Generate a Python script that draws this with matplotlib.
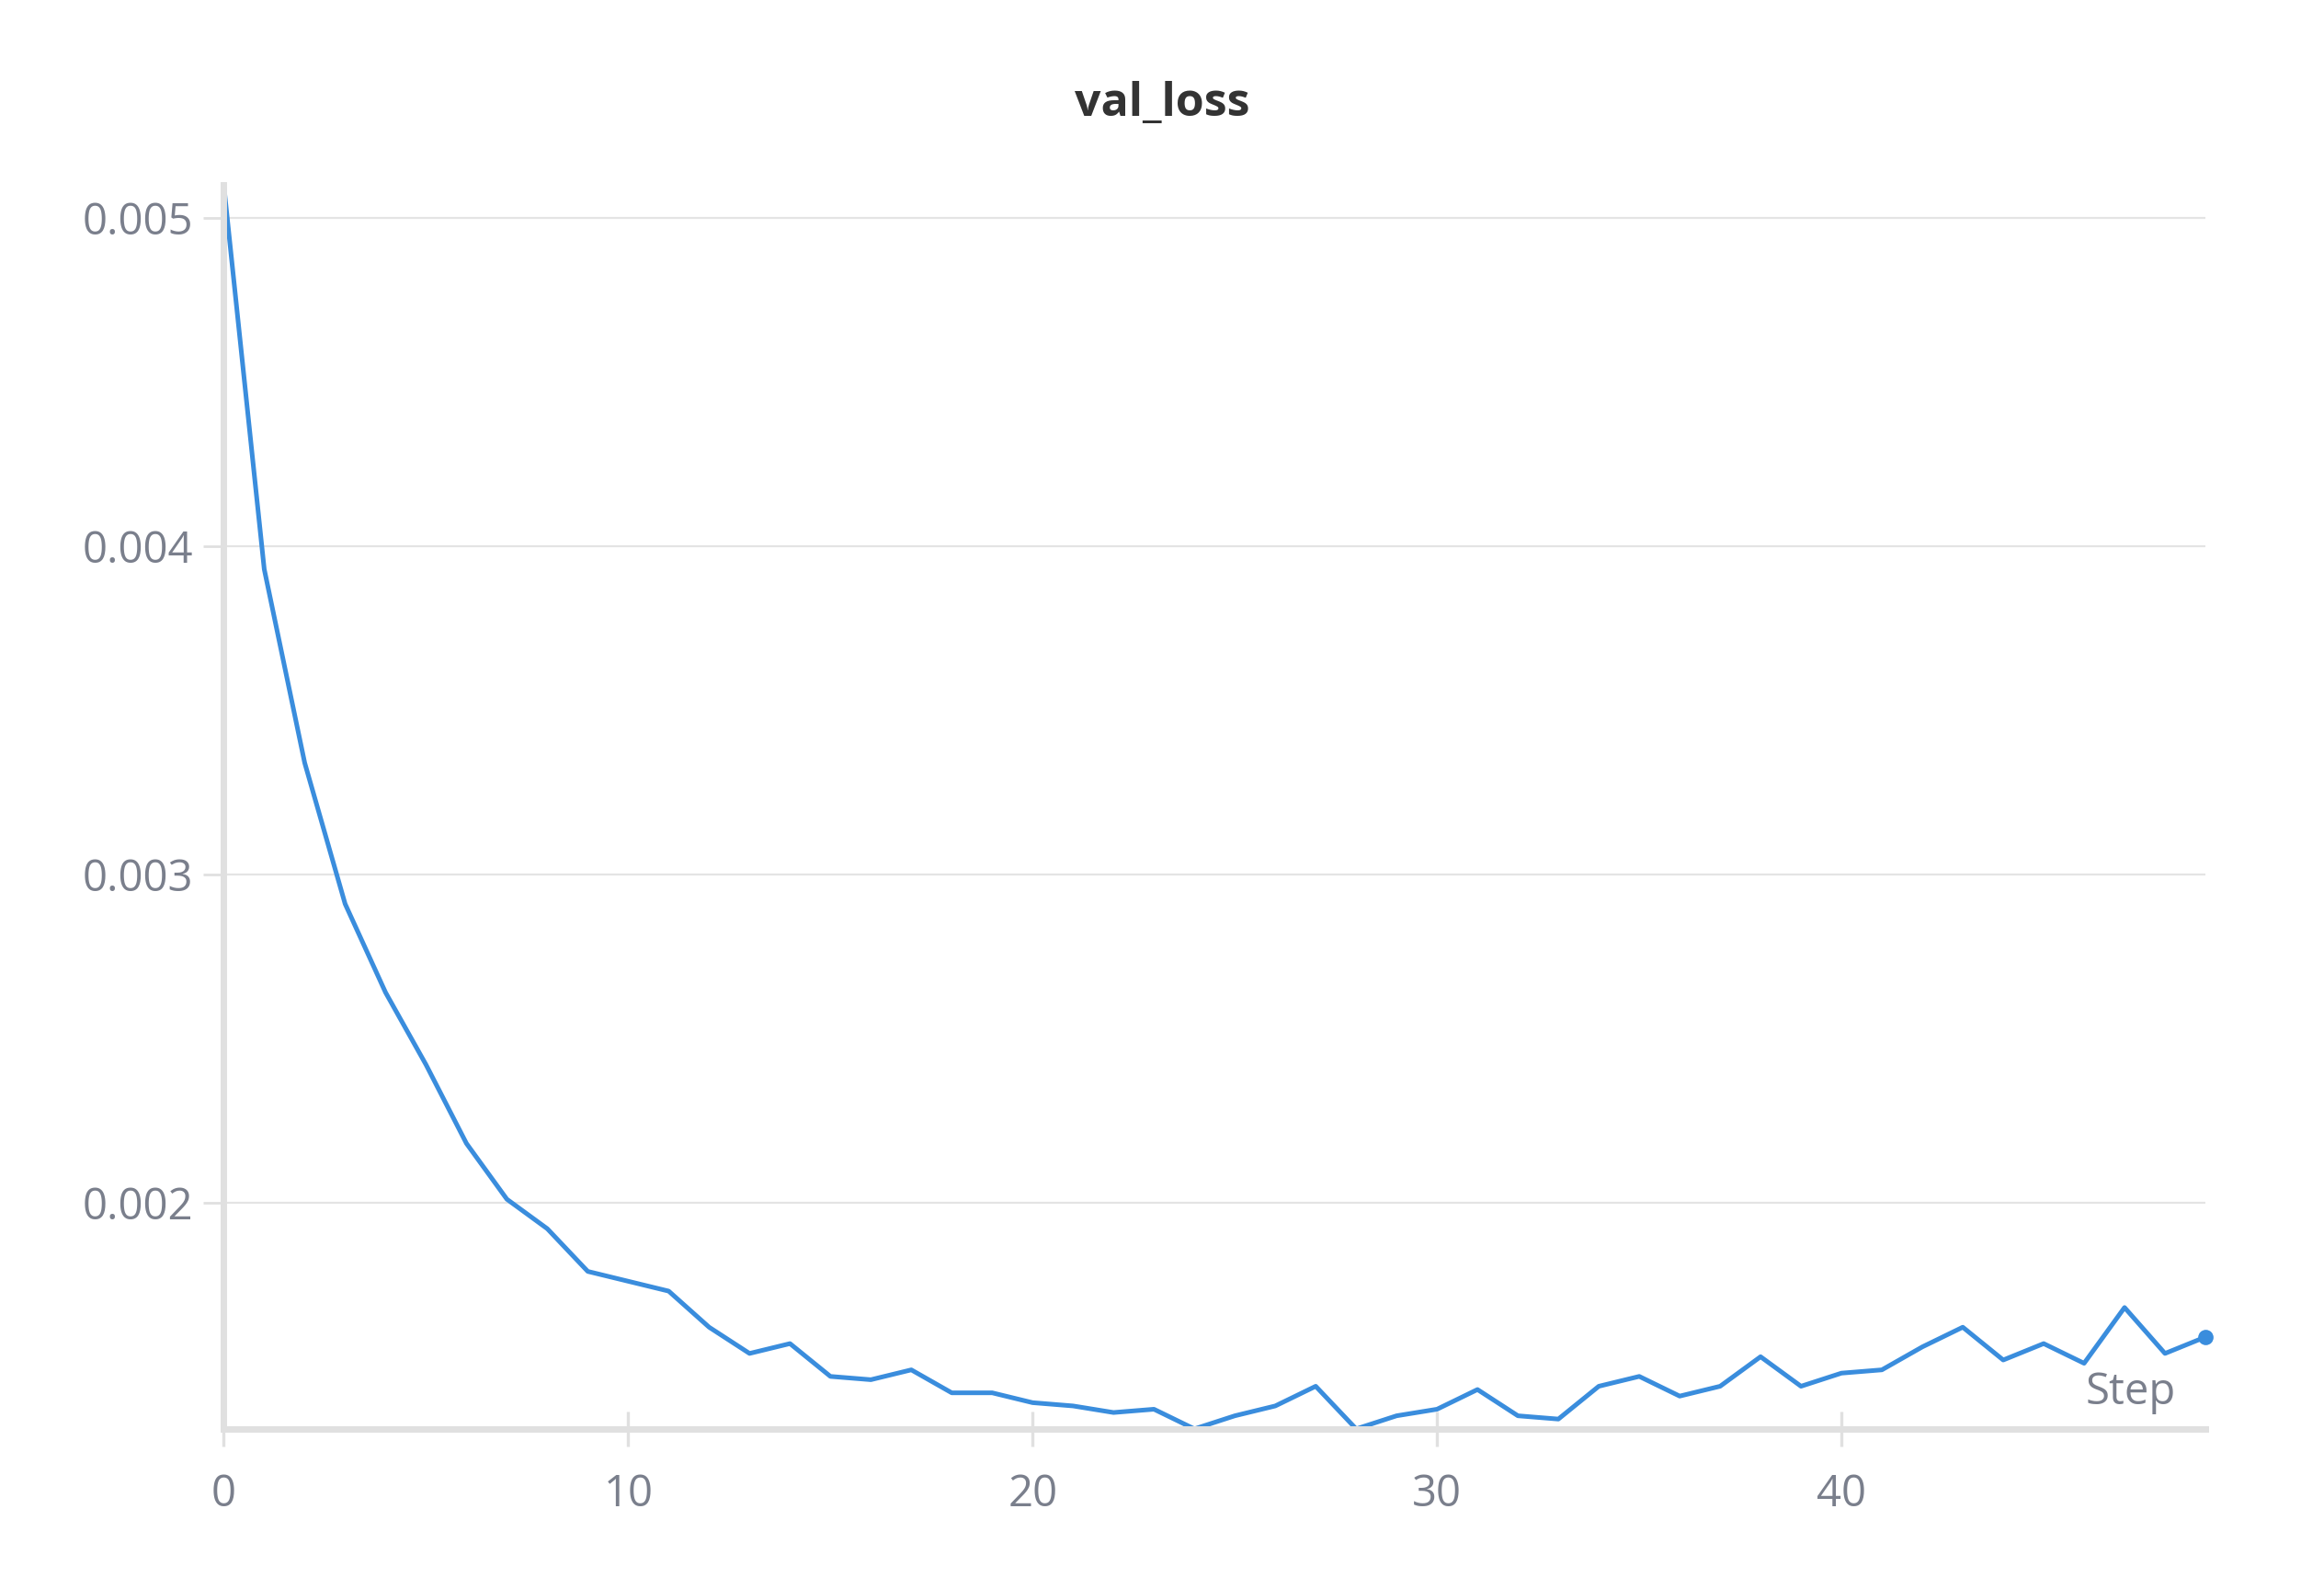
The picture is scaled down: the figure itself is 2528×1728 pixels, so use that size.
import matplotlib
matplotlib.use('Agg')
import matplotlib.pyplot as plt

# val_loss per step
steps = list(range(50))
val_loss = [0.00510, 0.00393, 0.00334, 0.00291, 0.00264, 0.00242, 0.00218, 0.00201, 0.00192, 0.00179,
            0.00176, 0.00173, 0.00162, 0.00154, 0.00157, 0.00147, 0.00146, 0.00149, 0.00142, 0.00142,
            0.00139, 0.00138, 0.00136, 0.00137, 0.00131, 0.00135, 0.00138, 0.00144, 0.00131, 0.00135,
            0.00137, 0.00143, 0.00135, 0.00134, 0.00144, 0.00147, 0.00141, 0.00144, 0.00153, 0.00144,
            0.00148, 0.00149, 0.00156, 0.00162, 0.00152, 0.00157, 0.00151, 0.00168, 0.00154, 0.00159]
yticks = [0.002, 0.003, 0.004, 0.005]
xticks = [0, 10, 20, 30, 40]

plt.rcParams['font.family'] = ['Open Sans', 'DejaVu Sans']
gray = '#7a7f8c'
line_col = '#3a8ddd'

fig = plt.figure(figsize=(12.64, 8.64), dpi=200)
ax = fig.add_axes([151/1568, 1 - 964/1072, (1488-151)/1568, (964-125)/1072])
ax.plot(steps, val_loss, color=line_col, linewidth=1.8, clip_on=False)
ax.plot(steps[-1], val_loss[-1], 'o', color=line_col, markersize=5, clip_on=False)

ax.set_xlim(0, 49)
ax.set_ylim(0.00131, 0.00510)
ax.set_yticks(yticks)
ax.set_yticklabels(['0.002', '0.003', '0.004', '0.005'])
ax.set_xticks(xticks)
ax.grid(axis='y', color='#e4e4e4', linewidth=0.8)
ax.set_axisbelow(True)

for s in ['top', 'right']:
    ax.spines[s].set_visible(False)
ax.spines['left'].set_color('#e0e0e0')
ax.spines['left'].set_linewidth(2.5)
ax.spines['bottom'].set_color('#e0e0e0')
ax.spines['bottom'].set_linewidth(2.5)

ax.tick_params(axis='y', colors='#e0e0e0', labelcolor=gray, labelsize=17, length=8, width=1, pad=4)
ax.tick_params(axis='x', colors='#e0e0e0', labelcolor=gray, labelsize=17, length=14, width=1.2,
               direction='inout', pad=10)

ax.text(0.985, 0.012, 'Step', transform=ax.transAxes, ha='right', va='bottom', color=gray, fontsize=17)
fig.text(0.5, 1 - 70/1072, 'val_loss', ha='center', va='center', color='#333333',
         fontsize=18, fontweight='bold')

fig.savefig('out.png', dpi=200, facecolor='white')
